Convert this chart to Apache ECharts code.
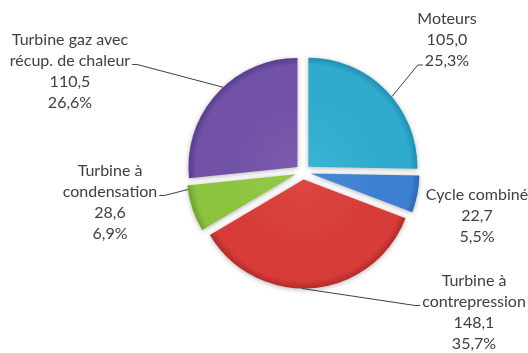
<!DOCTYPE html>
<html>
<head>
<meta charset="utf-8">
<script src="https://cdn.jsdelivr.net/npm/echarts@6/dist/echarts.min.js"></script>
<style>
  html, body { margin: 0; padding: 0; background: #ffffff; }
  #chart { width: 528px; height: 353px; }
</style>
</head>
<body>
<div id="chart"></div>
<script>
// Puissance installée par technologie
const categories = [
  'Moteurs',
  'Cycle combiné',
  'Turbine à\ncontrepression',
  'Turbine à\ncondensation',
  'Turbine gaz avec\nrécup. de chaleur'
];
const values = [105.0, 22.7, 148.1, 28.6, 110.5];

// Slice colours: [light, base, dark]
const palette = [
  ['#3ab3d3', '#2fabcd', '#1f90b2'],
  ['#4a89d6', '#3d80d2', '#2b66b5'],
  ['#dd4642', '#d73c38', '#b42a28'],
  ['#96ca4a', '#8cc43f', '#6fa12b'],
  ['#7a5bad', '#7152a6', '#583c8b']
];

// Label blocks: centre of text block, leader anchor angle on the rim
// (degrees clockwise from 12 o'clock), which text line the leader meets
// and from which side (0 = no leader).
const labelCentre = [[447, 40], [477, 216], [474, 312], [110, 202], [70, 71]];
const leaderAngle = [50, 0, 181, 262, 317];
const leaderLine = [2, 0, 1, 1, 1];
const leaderSide = [-1, 0, -1, 1, 1];

const CX = 303, CY = 172, R = 109, OFFSET = 7.5;
const FONT_FAMILY = 'Lato', FONT_SIZE = 16, LINE_H = 21;
const TEXT_COLOR = '#404040';

const total = values.reduce((a, b) => a + b, 0);
const fr = v => v.toFixed(1).replace('.', ',');
const dir = deg => { const r = deg * Math.PI / 180; return [Math.sin(r), -Math.cos(r)]; };

const measureCtx = document.createElement('canvas').getContext('2d');
measureCtx.font = FONT_SIZE + 'px ' + FONT_FAMILY;

// mid angle of each slice, for the explode direction
const midAngles = [];
let acc = 0;
values.forEach(v => {
  const span = v / total * 360;
  midAngles.push(acc + span / 2);
  acc += span;
});

const graphics = [];
values.forEach((v, i) => {
  const text = categories[i] + '\n' + fr(v) + '\n' + fr(v / total * 100) + '%';
  const lines = text.split('\n');
  const [lx, ly] = labelCentre[i];
  graphics.push({
    type: 'text',
    x: lx, y: ly,
    z: 10,
    style: {
      text: text,
      fontFamily: FONT_FAMILY,
      fontSize: FONT_SIZE,
      lineHeight: LINE_H,
      fill: TEXT_COLOR,
      align: 'center',
      verticalAlign: 'middle'
    }
  });
  const side = leaderSide[i];
  if (side !== 0) {
    const k = leaderLine[i];
    const lineY = ly - (lines.length - 1) * LINE_H / 2 + k * LINE_H + 4;
    const w = measureCtx.measureText(lines[k]).width;
    const endX = lx + side * (w / 2 + 2);
    const elbowX = endX + side * 5;
    const md = dir(midAngles[i]);
    const ad = dir(leaderAngle[i]);
    const sx = CX + md[0] * OFFSET + ad[0] * R;
    const sy = CY + md[1] * OFFSET + ad[1] * R;
    graphics.push({
      type: 'polyline',
      z: 9,
      shape: { points: [[sx, sy], [elbowX, lineY], [endX, lineY]] },
      style: { stroke: TEXT_COLOR, lineWidth: 1, fill: null }
    });
  }
});

const chart = echarts.init(document.getElementById('chart'), null, { renderer: 'canvas' });

const data = values.map((v, i) => ({
  name: categories[i],
  value: v,
  selected: true,
  itemStyle: {
    color: {
      type: 'radial', x: CX, y: CY, r: R, global: true,
      colorStops: [
        { offset: 0, color: palette[i][0] },
        { offset: 0.6, color: palette[i][1] },
        { offset: 0.93, color: palette[i][1] },
        { offset: 1, color: palette[i][2] }
      ]
    }
  }
}));

chart.setOption({
  backgroundColor: '#ffffff',
  animation: false,
  series: [{
    type: 'pie',
    center: [CX, CY],
    radius: [0, R],
    startAngle: 90,
    clockwise: true,
    selectedMode: 'multiple',
    selectedOffset: OFFSET,
    itemStyle: {
      borderWidth: 0,
      shadowBlur: 5,
      shadowColor: 'rgba(0,0,0,0.3)',
      shadowOffsetY: 1
    },
    emphasis: { disabled: true },
    label: { show: false },
    labelLine: { show: false },
    data: data
  }],
  graphic: graphics
});
</script>
</body>
</html>
